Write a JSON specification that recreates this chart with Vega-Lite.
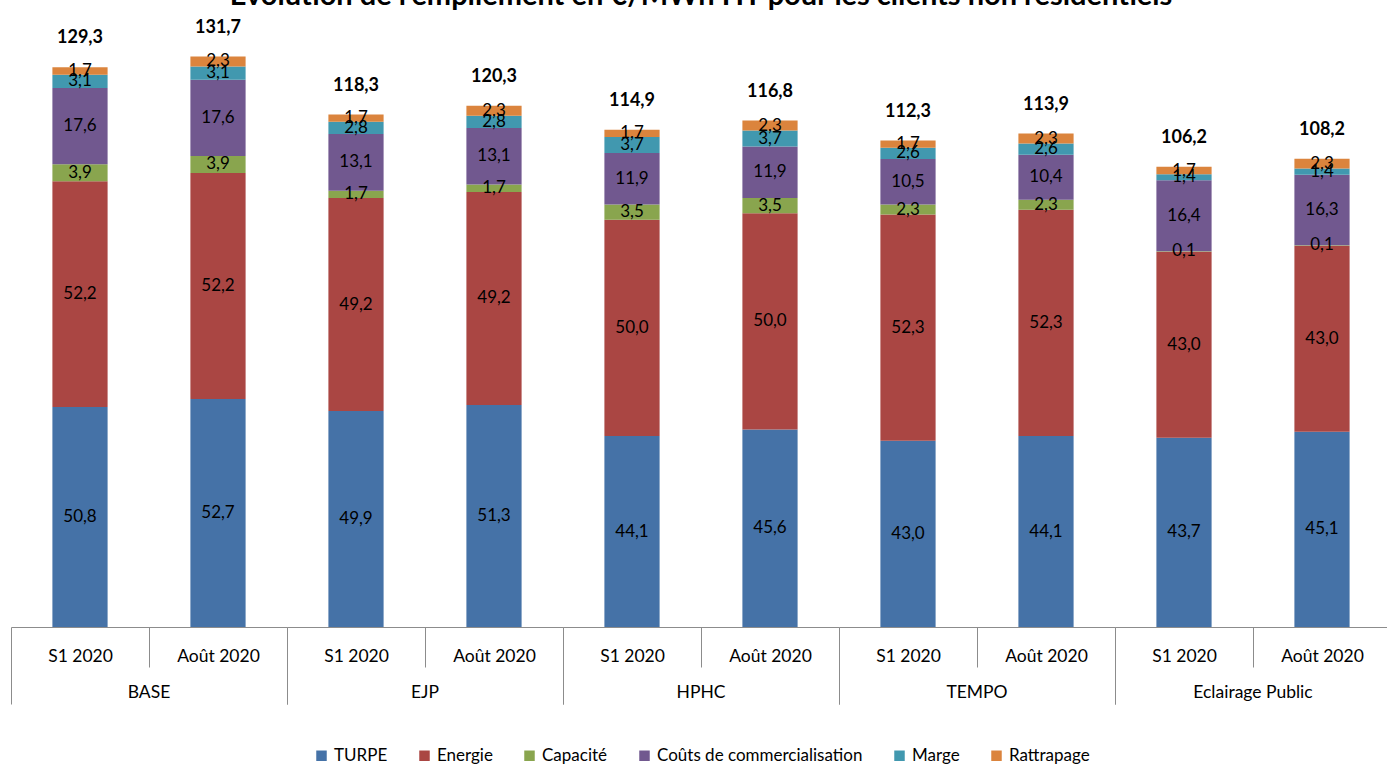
{
  "$schema": "https://vega.github.io/schema/vega-lite/v6.json",
  "padding": {"left": 10, "top": -19, "right": 0, "bottom": 0},
  "title": {
    "text": "Evolution de l'empilement en €/MWh HT pour les clients non résidentiels",
    "fontSize": 29,
    "font": "Lato",
    "fontWeight": "bold",
    "anchor": "middle",
    "offset": 8,
    "color": "#000000"
  },
  "config": {
    "locale": {"number": {"decimal": ",", "thousands": " ", "grouping": [3], "currency": ["", " €"]}},
    "view": {"stroke": null},
    "font": "Lato",
    "legend": {"layout": {"bottom": {"anchor": "middle"}}}
  },
  "data": {
    "values": [
      {"groupe": "BASE", "periode": "S1 2020", "composante": "TURPE", "valeur": 50.8},
      {"groupe": "BASE", "periode": "S1 2020", "composante": "Energie", "valeur": 52.2},
      {"groupe": "BASE", "periode": "S1 2020", "composante": "Capacité", "valeur": 3.9},
      {"groupe": "BASE", "periode": "S1 2020", "composante": "Coûts de commercialisation", "valeur": 17.6},
      {"groupe": "BASE", "periode": "S1 2020", "composante": "Marge", "valeur": 3.1},
      {"groupe": "BASE", "periode": "S1 2020", "composante": "Rattrapage", "valeur": 1.7},
      {"groupe": "BASE", "periode": "S1 2020", "composante": "Total", "valeur": 129.3},
      {"groupe": "BASE", "periode": "Août 2020", "composante": "TURPE", "valeur": 52.7},
      {"groupe": "BASE", "periode": "Août 2020", "composante": "Energie", "valeur": 52.2},
      {"groupe": "BASE", "periode": "Août 2020", "composante": "Capacité", "valeur": 3.9},
      {"groupe": "BASE", "periode": "Août 2020", "composante": "Coûts de commercialisation", "valeur": 17.6},
      {"groupe": "BASE", "periode": "Août 2020", "composante": "Marge", "valeur": 3.1},
      {"groupe": "BASE", "periode": "Août 2020", "composante": "Rattrapage", "valeur": 2.3},
      {"groupe": "BASE", "periode": "Août 2020", "composante": "Total", "valeur": 131.7},
      {"groupe": "EJP", "periode": "S1 2020", "composante": "TURPE", "valeur": 49.9},
      {"groupe": "EJP", "periode": "S1 2020", "composante": "Energie", "valeur": 49.2},
      {"groupe": "EJP", "periode": "S1 2020", "composante": "Capacité", "valeur": 1.7},
      {"groupe": "EJP", "periode": "S1 2020", "composante": "Coûts de commercialisation", "valeur": 13.1},
      {"groupe": "EJP", "periode": "S1 2020", "composante": "Marge", "valeur": 2.8},
      {"groupe": "EJP", "periode": "S1 2020", "composante": "Rattrapage", "valeur": 1.7},
      {"groupe": "EJP", "periode": "S1 2020", "composante": "Total", "valeur": 118.3},
      {"groupe": "EJP", "periode": "Août 2020", "composante": "TURPE", "valeur": 51.3},
      {"groupe": "EJP", "periode": "Août 2020", "composante": "Energie", "valeur": 49.2},
      {"groupe": "EJP", "periode": "Août 2020", "composante": "Capacité", "valeur": 1.7},
      {"groupe": "EJP", "periode": "Août 2020", "composante": "Coûts de commercialisation", "valeur": 13.1},
      {"groupe": "EJP", "periode": "Août 2020", "composante": "Marge", "valeur": 2.8},
      {"groupe": "EJP", "periode": "Août 2020", "composante": "Rattrapage", "valeur": 2.3},
      {"groupe": "EJP", "periode": "Août 2020", "composante": "Total", "valeur": 120.3},
      {"groupe": "HPHC", "periode": "S1 2020", "composante": "TURPE", "valeur": 44.1},
      {"groupe": "HPHC", "periode": "S1 2020", "composante": "Energie", "valeur": 50.0},
      {"groupe": "HPHC", "periode": "S1 2020", "composante": "Capacité", "valeur": 3.5},
      {"groupe": "HPHC", "periode": "S1 2020", "composante": "Coûts de commercialisation", "valeur": 11.9},
      {"groupe": "HPHC", "periode": "S1 2020", "composante": "Marge", "valeur": 3.7},
      {"groupe": "HPHC", "periode": "S1 2020", "composante": "Rattrapage", "valeur": 1.7},
      {"groupe": "HPHC", "periode": "S1 2020", "composante": "Total", "valeur": 114.9},
      {"groupe": "HPHC", "periode": "Août 2020", "composante": "TURPE", "valeur": 45.6},
      {"groupe": "HPHC", "periode": "Août 2020", "composante": "Energie", "valeur": 50.0},
      {"groupe": "HPHC", "periode": "Août 2020", "composante": "Capacité", "valeur": 3.5},
      {"groupe": "HPHC", "periode": "Août 2020", "composante": "Coûts de commercialisation", "valeur": 11.9},
      {"groupe": "HPHC", "periode": "Août 2020", "composante": "Marge", "valeur": 3.7},
      {"groupe": "HPHC", "periode": "Août 2020", "composante": "Rattrapage", "valeur": 2.3},
      {"groupe": "HPHC", "periode": "Août 2020", "composante": "Total", "valeur": 116.8},
      {"groupe": "TEMPO", "periode": "S1 2020", "composante": "TURPE", "valeur": 43.0},
      {"groupe": "TEMPO", "periode": "S1 2020", "composante": "Energie", "valeur": 52.3},
      {"groupe": "TEMPO", "periode": "S1 2020", "composante": "Capacité", "valeur": 2.3},
      {"groupe": "TEMPO", "periode": "S1 2020", "composante": "Coûts de commercialisation", "valeur": 10.5},
      {"groupe": "TEMPO", "periode": "S1 2020", "composante": "Marge", "valeur": 2.6},
      {"groupe": "TEMPO", "periode": "S1 2020", "composante": "Rattrapage", "valeur": 1.7},
      {"groupe": "TEMPO", "periode": "S1 2020", "composante": "Total", "valeur": 112.3},
      {"groupe": "TEMPO", "periode": "Août 2020", "composante": "TURPE", "valeur": 44.1},
      {"groupe": "TEMPO", "periode": "Août 2020", "composante": "Energie", "valeur": 52.3},
      {"groupe": "TEMPO", "periode": "Août 2020", "composante": "Capacité", "valeur": 2.3},
      {"groupe": "TEMPO", "periode": "Août 2020", "composante": "Coûts de commercialisation", "valeur": 10.4},
      {"groupe": "TEMPO", "periode": "Août 2020", "composante": "Marge", "valeur": 2.6},
      {"groupe": "TEMPO", "periode": "Août 2020", "composante": "Rattrapage", "valeur": 2.3},
      {"groupe": "TEMPO", "periode": "Août 2020", "composante": "Total", "valeur": 113.9},
      {"groupe": "Eclairage Public", "periode": "S1 2020", "composante": "TURPE", "valeur": 43.7},
      {"groupe": "Eclairage Public", "periode": "S1 2020", "composante": "Energie", "valeur": 43.0},
      {"groupe": "Eclairage Public", "periode": "S1 2020", "composante": "Capacité", "valeur": 0.1},
      {"groupe": "Eclairage Public", "periode": "S1 2020", "composante": "Coûts de commercialisation", "valeur": 16.4},
      {"groupe": "Eclairage Public", "periode": "S1 2020", "composante": "Marge", "valeur": 1.4},
      {"groupe": "Eclairage Public", "periode": "S1 2020", "composante": "Rattrapage", "valeur": 1.7},
      {"groupe": "Eclairage Public", "periode": "S1 2020", "composante": "Total", "valeur": 106.2},
      {"groupe": "Eclairage Public", "periode": "Août 2020", "composante": "TURPE", "valeur": 45.1},
      {"groupe": "Eclairage Public", "periode": "Août 2020", "composante": "Energie", "valeur": 43.0},
      {"groupe": "Eclairage Public", "periode": "Août 2020", "composante": "Capacité", "valeur": 0.1},
      {"groupe": "Eclairage Public", "periode": "Août 2020", "composante": "Coûts de commercialisation", "valeur": 16.3},
      {"groupe": "Eclairage Public", "periode": "Août 2020", "composante": "Marge", "valeur": 1.4},
      {"groupe": "Eclairage Public", "periode": "Août 2020", "composante": "Rattrapage", "valeur": 2.3},
      {"groupe": "Eclairage Public", "periode": "Août 2020", "composante": "Total", "valeur": 108.2}
    ]
  },
  "transform": [
    {"calculate": "indexof(['TURPE','Energie','Capacité','Coûts de commercialisation','Marge','Rattrapage'], datum.composante)", "as": "ordre"}
  ],
  "facet": {
    "column": {
      "field": "groupe",
      "type": "nominal",
      "sort": ["BASE", "EJP", "HPHC", "TEMPO", "Eclairage Public"],
      "title": null,
      "header": {"labelOrient": "bottom", "labelFontSize": 17.5, "labelPadding": -21, "labelFont": "Lato", "labelColor": "#000000"}
    }
  },
  "spacing": 0,
  "spec": {
    "width": 276,
    "height": 606,
    "encoding": {
      "x": {
        "field": "periode",
        "type": "nominal",
        "sort": ["S1 2020", "Août 2020"],
        "scale": {"paddingInner": 0, "paddingOuter": 0},
        "axis": {
          "title": null,
          "labelAngle": 0,
          "labelFontSize": 17.5,
          "labelFont": "Lato",
          "labelColor": "#000000",
          "tickBand": "extent",
          "domainColor": "#8c8c8c",
          "tickColor": "#8c8c8c",
          "tickSize": {"condition": {"test": "datum.value === 'S1 2020'", "value": 40}, "value": 77},
          "labelPadding": {"condition": {"test": "datum.value === 'S1 2020'", "value": -20}, "value": -57}
        }
      }
    },
    "layer": [
      {
        "transform": [{"filter": "datum.composante !== 'Total'"}],
        "mark": {"type": "bar", "width": {"band": 0.4}},
        "encoding": {
          "y": {"field": "valeur", "type": "quantitative", "stack": "zero", "scale": {"domain": [0, 140]}, "axis": null},
          "color": {
            "field": "composante",
            "type": "nominal",
            "scale": {
              "domain": ["TURPE", "Energie", "Capacité", "Coûts de commercialisation", "Marge", "Rattrapage"],
              "range": ["#4572A7", "#AA4643", "#89A54E", "#71588F", "#4198AF", "#DB843D"]
            },
            "legend": {
              "title": null,
              "orient": "bottom",
              "direction": "horizontal",
              "symbolType": "square",
              "symbolSize": 110,
              "symbolStrokeWidth": 0,
              "labelFontSize": 17,
              "labelFont": "Lato",
              "labelColor": "#000000",
              "labelLimit": 400,
              "labelOffset": 4,
              "columnPadding": 28,
              "offset": 42
            }
          },
          "order": {"field": "ordre", "type": "quantitative"}
        }
      },
      {
        "transform": [{"filter": "datum.composante !== 'Total'"}],
        "mark": {"type": "text", "fontSize": 17, "font": "Lato", "color": "#000000"},
        "encoding": {
          "y": {"field": "valeur", "type": "quantitative", "stack": "zero", "bandPosition": 0.5},
          "detail": {"field": "composante", "type": "nominal"},
          "order": {"field": "ordre", "type": "quantitative"},
          "text": {"field": "valeur", "type": "quantitative", "format": ".1f"}
        }
      },
      {
        "transform": [{"filter": "datum.composante === 'Total'"}],
        "mark": {"type": "text", "fontSize": 18, "font": "Lato", "fontWeight": "bold", "color": "#000000", "baseline": "middle", "dy": -29},
        "encoding": {
          "y": {"field": "valeur", "type": "quantitative"},
          "text": {"field": "valeur", "type": "quantitative", "format": ".1f"}
        }
      }
    ]
  }
}
